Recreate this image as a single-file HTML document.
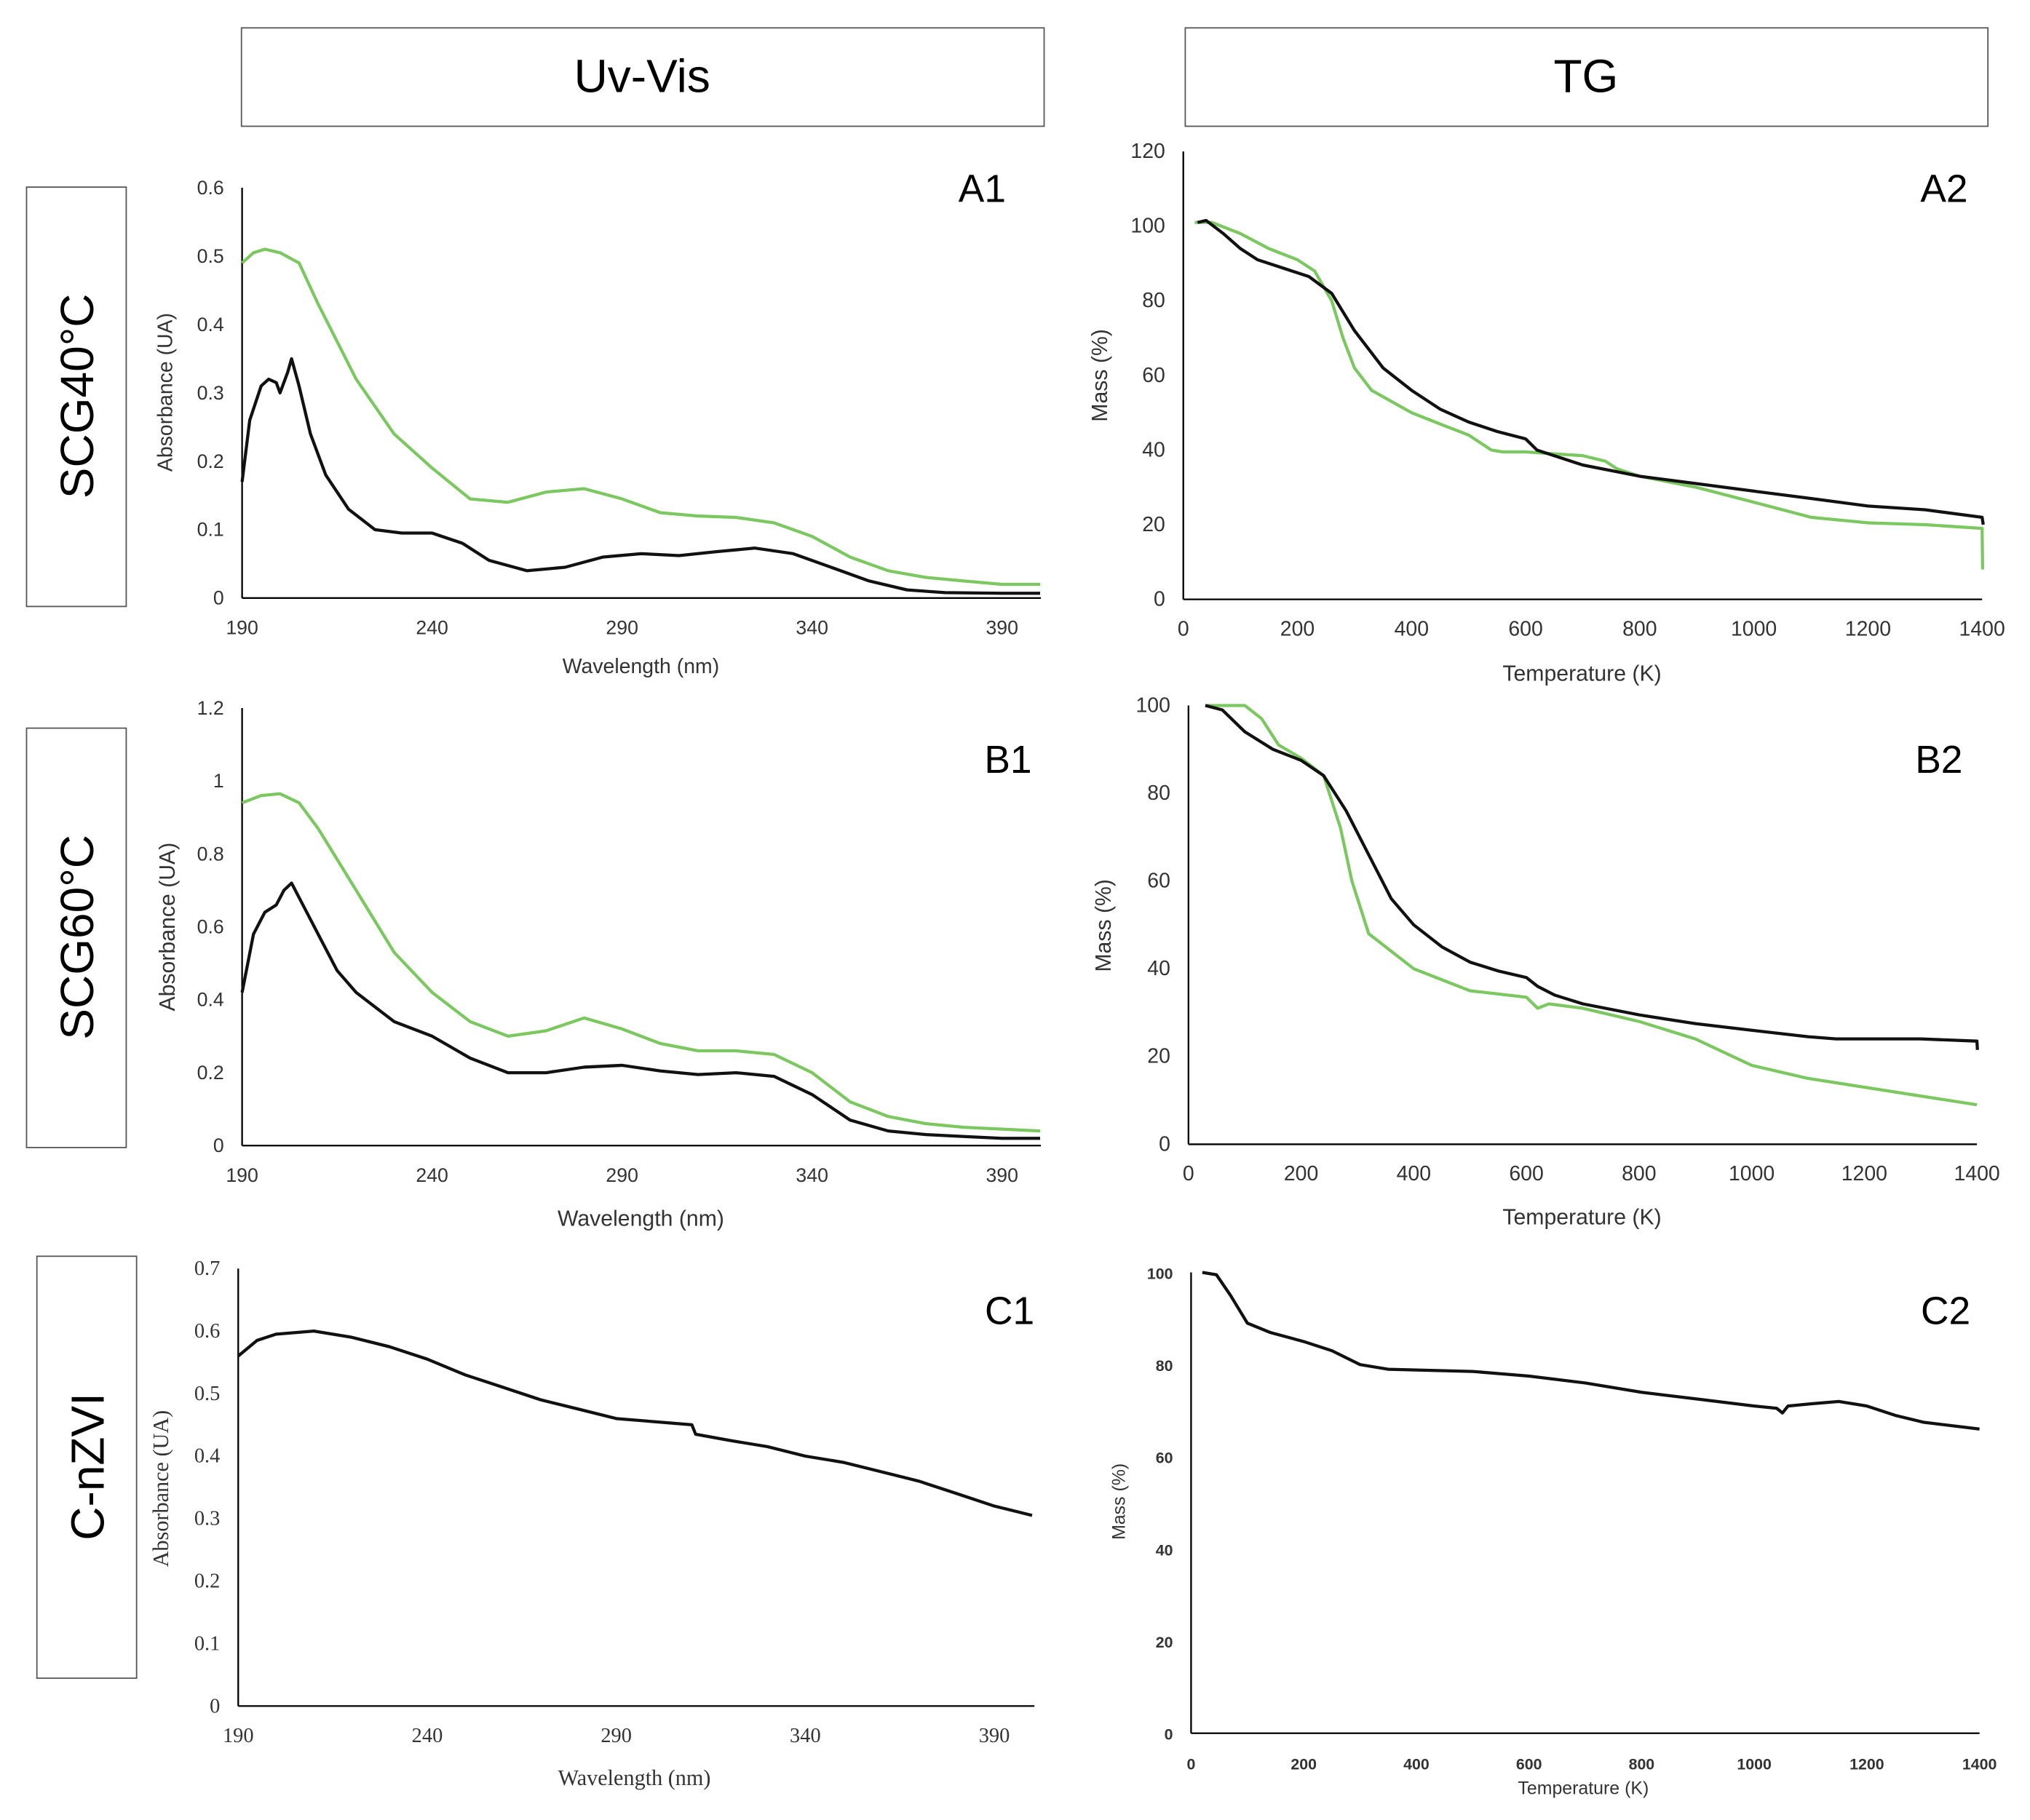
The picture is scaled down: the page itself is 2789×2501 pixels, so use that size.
<!DOCTYPE html>
<html><head><meta charset="utf-8"><style>
html,body{margin:0;padding:0;background:#fff;}
svg{display:block;font-family:"Liberation Sans",sans-serif;}
</style></head><body>
<svg id="fig" width="2789" height="2501" viewBox="0 0 1568 1406" xmlns="http://www.w3.org/2000/svg">
<rect x="0" y="0" width="1568" height="1406" fill="#fff"/>
<g><rect x="186.5" y="21.5" width="620" height="76" fill="none" stroke="#555" stroke-width="1"/><text x="496" y="71" font-size="36" text-anchor="middle">Uv-Vis</text></g>
<g><rect x="915.5" y="21.5" width="620" height="76" fill="none" stroke="#555" stroke-width="1"/><text x="1225" y="71" font-size="36" text-anchor="middle">TG</text></g>
<g><rect x="20.5" y="144.5" width="77" height="324" fill="none" stroke="#555"/><text transform="translate(72,306) rotate(-90)" font-size="36" text-anchor="middle">SCG40°C</text></g>
<g><rect x="20.5" y="562.5" width="77" height="324" fill="none" stroke="#555"/><text transform="translate(72,724) rotate(-90)" font-size="36" text-anchor="middle">SCG60°C</text></g>
<g><rect x="28.5" y="970.5" width="77" height="326" fill="none" stroke="#555"/><text transform="translate(80,1133) rotate(-90)" font-size="36" text-anchor="middle">C-nZVI</text></g>
<g id="charts"></g>
</svg>
<script>
// ---- data ----
const a1Wave=[190,193,196,200,205,210,220,230,240,250,260,270,280,290,300,310,320,330,340,350,360,370,380,390,400];
const a1Green=[0.49,0.505,0.51,0.505,0.49,0.43,0.32,0.24,0.19,0.145,0.14,0.155,0.16,0.145,0.125,0.12,0.118,0.11,0.09,0.06,0.04,0.03,0.025,0.02,0.02];
const a1WaveK=[190,192,195,197,199,200,202,203,205,208,212,218,225,232,240,248,255,265,275,285,295,305,315,325,335,345,355,365,375,390,400];
const a1Black=[0.17,0.26,0.31,0.32,0.315,0.30,0.33,0.35,0.31,0.24,0.18,0.13,0.10,0.095,0.095,0.08,0.055,0.04,0.045,0.06,0.065,0.062,0.068,0.073,0.065,0.045,0.025,0.012,0.008,0.007,0.007];
const b1Wave=[190,195,200,205,210,220,230,240,250,260,270,280,290,300,310,320,330,340,350,360,370,380,390,400];
const b1Green=[0.94,0.96,0.965,0.94,0.87,0.70,0.53,0.42,0.34,0.30,0.315,0.35,0.32,0.28,0.26,0.26,0.25,0.20,0.12,0.08,0.06,0.05,0.045,0.04];
const b1WaveK=[190,193,196,199,201,203,206,210,215,220,230,240,250,260,270,280,290,300,310,320,330,340,350,360,370,380,390,400];
const b1Black=[0.42,0.58,0.64,0.66,0.70,0.72,0.66,0.58,0.48,0.42,0.34,0.30,0.24,0.20,0.20,0.215,0.22,0.205,0.195,0.20,0.19,0.14,0.07,0.04,0.03,0.025,0.02,0.02];
const c1Wave=[190,195,200,210,220,230,240,250,260,270,280,290,300,310,311,320,330,340,350,360,370,380,390,400];
const c1Black=[0.56,0.585,0.595,0.60,0.59,0.575,0.555,0.53,0.51,0.49,0.475,0.46,0.455,0.45,0.435,0.425,0.415,0.40,0.39,0.375,0.36,0.34,0.32,0.305];
const a2TempG=[20,50,100,150,200,230,260,280,300,330,400,450,500,540,560,600,650,700,740,760,800,900,1000,1100,1200,1300,1400,1401];
const a2Green=[101,101,98,94,91,88,80,70,62,56,50,47,44,40,39.5,39.5,39,38.5,37,35,33,30,26,22,20.5,20,19,8];
const a2TempK=[25,40,70,100,130,180,220,260,300,350,400,450,500,550,600,620,700,800,900,1000,1100,1200,1300,1400,1402];
const a2Black=[101,101.5,98,94,91,88.5,86.5,82,72,62,56,51,47.5,45,43,40,36,33,31,29,27,25,24,22,20];
const b2TempG=[30,100,130,160,200,240,270,290,320,400,500,600,620,640,700,800,900,1000,1100,1200,1300,1400];
const b2Green=[100,100,97,91,88,84,72,60,48,40,35,33.5,31,32,31,28,24,18,15,13,11,9];
const b2TempK=[30,60,100,150,200,240,280,320,360,400,450,500,550,600,620,650,700,800,900,1000,1100,1150,1300,1400,1401];
const b2Black=[100,99,94,90,87.5,84,76,66,56,50,45,41.5,39.5,38,36,34,32,29.5,27.5,26,24.5,24,24,23.5,21.5];
const c2Temp=[20,45,70,100,140,200,250,300,350,500,600,700,800,900,1000,1040,1050,1060,1100,1150,1200,1250,1300,1400];
const c2Black=[100,99.5,95,89,87,85,83,80,79,78.5,77.5,76,74,72.5,71,70.5,69.5,71,71.5,72,71,69,67.5,66];
const uvTicks=[190,240,290,340,390];
const tgTicks=[0,200,400,600,800,1000,1200,1400];
const a1YTicks=[0,0.1,0.2,0.3,0.4,0.5,0.6];
const b1YTicks=[0,0.2,0.4,0.6,0.8,1,1.2];
const c1YTicks=[0,0.1,0.2,0.3,0.4,0.5,0.6,0.7];
const a2YTicks=[0,20,40,60,80,100,120];
const b2YTicks=[0,20,40,60,80,100];
const c2YTicks=[0,20,40,60,80,100];

const NS="http://www.w3.org/2000/svg";
const root=document.getElementById('charts');
function mk(tag,attrs,parent){const e=document.createElementNS(NS,tag);for(const k in attrs)e.setAttribute(k,attrs[k]);parent.appendChild(e);return e;}
function chart(c){
  const g=mk('g',{},root);
  
  
  const sx=v=>c.x0+(v-c.xmin)/(c.xmax-c.xmin)*(c.x1-c.x0);
  const sy=v=>c.y0+(v-c.ymin)/(c.ymax-c.ymin)*(c.y1-c.y0);
  const ff=c.font, fw=c.bold?'bold':'normal';
  const yax=mk('line',{x1:c.x0,y1:c.y0,x2:c.x0,y2:c.y1,stroke:'#000','stroke-width':1.3},g);
  
  
  const xax=mk('line',{x1:c.x0,y1:c.y0,x2:c.xend,y2:c.y0,stroke:'#000','stroke-width':1.3},g);
  
  
  c.xt.forEach(v=>{const t=mk('text',{x:sx(v),y:c.y0+28,'font-size':c.tfs,'text-anchor':'middle','font-family':ff,'font-weight':fw,fill:'#333'},g);t.textContent=v;
    
    });
  c.yt.forEach(v=>{const t=mk('text',{x:c.x0-14,y:sy(v)+5,'font-size':c.tfs,'text-anchor':'end','font-family':ff,'font-weight':fw,fill:'#333'},g);t.textContent=v;
    
    });
  const xt=mk('text',{x:c.xtx,y:c.xty,'font-size':c.afs,'text-anchor':'middle','font-family':ff,fill:'#333'},g);xt.textContent=c.xtitle;
  
  
  const yt=mk('text',{transform:`translate(${c.ytx},${c.yty}) rotate(-90)`,'font-size':c.afs,'text-anchor':'middle','font-family':ff,fill:'#333'},g);yt.textContent=c.ytitle;
  
  
  const pl=mk('text',{x:c.plx,y:c.ply,'font-size':30,'text-anchor':'end'},g);pl.textContent=c.id;
  
  
  c.series.forEach(s=>{
    const d=s.x.map((v,i)=>(i?'L':'M')+sx(v).toFixed(1)+','+sy(s.y[i]).toFixed(1)).join(' ');
    const p=mk('path',{d:d,fill:'none',stroke:s.color,'stroke-width':2.4,'stroke-linejoin':'round'},g);
    
    
  });
}
const G='#7cc860',K='#111';
const LS='"Liberation Sans",sans-serif', SER='"Liberation Serif",serif';
chart({id:'A1',x0:187,x1:774,xmin:190,xmax:390,xend:804,y0:462,y1:145,ymin:0,ymax:0.6,xt:uvTicks,yt:a1YTicks,tfs:15,afs:16,font:LS,
  xtitle:'Wavelength (nm)',xtx:495,xty:520,ytitle:'Absorbance (UA)',ytx:133,yty:303,plx:777,ply:156,
  series:[{x:a1Wave,y:a1Green,color:G,name:'a1-green-line'},{x:a1WaveK,y:a1Black,color:K,name:'a1-black-line'}]});
chart({id:'A2',x0:914,x1:1531,xmin:0,xmax:1400,xend:1531,y0:463,y1:117,ymin:0,ymax:120,xt:tgTicks,yt:a2YTicks,tfs:16,afs:17,font:LS,
  xtitle:'Temperature (K)',xtx:1222,xty:526,ytitle:'Mass (%)',ytx:855,yty:290,plx:1520,ply:156,
  series:[{x:a2TempG,y:a2Green,color:G,name:'a2-green-line'},{x:a2TempK,y:a2Black,color:K,name:'a2-black-line'}]});
chart({id:'B1',x0:187,x1:774,xmin:190,xmax:390,xend:804,y0:885,y1:547,ymin:0,ymax:1.2,xt:uvTicks,yt:b1YTicks,tfs:15,afs:17,font:LS,
  xtitle:'Wavelength (nm)',xtx:495,xty:947,ytitle:'Absorbance (UA)',ytx:135,yty:716,plx:797,ply:597,
  series:[{x:b1Wave,y:b1Green,color:G,name:'b1-green-line'},{x:b1WaveK,y:b1Black,color:K,name:'b1-black-line'}]});
chart({id:'B2',x0:918,x1:1527,xmin:0,xmax:1400,xend:1527,y0:884,y1:545,ymin:0,ymax:100,xt:tgTicks,yt:b2YTicks,tfs:16,afs:17,font:LS,
  xtitle:'Temperature (K)',xtx:1222,xty:946,ytitle:'Mass (%)',ytx:858,yty:715,plx:1516,ply:597,
  series:[{x:b2TempG,y:b2Green,color:G,name:'b2-green-line'},{x:b2TempK,y:b2Black,color:K,name:'b2-black-line'}]});
chart({id:'C1',x0:184,x1:768,xmin:190,xmax:390,xend:799,y0:1318,y1:980,ymin:0,ymax:0.7,xt:uvTicks,yt:c1YTicks,tfs:16,afs:17,font:SER,
  xtitle:'Wavelength (nm)',xtx:490,xty:1379,ytitle:'Absorbance (UA)',ytx:130,yty:1150,plx:799,ply:1023,
  series:[{x:c1Wave,y:c1Black,color:K,name:'c1-black-line'}]});
chart({id:'C2',x0:920,x1:1529,xmin:0,xmax:1400,xend:1529,y0:1339,y1:983,ymin:0,ymax:100,xt:tgTicks,yt:c2YTicks,tfs:12,afs:14,font:LS,bold:true,
  xtitle:'Temperature (K)',xtx:1223,xty:1386,ytitle:'Mass (%)',ytx:869,yty:1160,plx:1522,ply:1023,
  series:[{x:c2Temp,y:c2Black,color:K,name:'c2-black-line'}]});
</script>
</body></html>
